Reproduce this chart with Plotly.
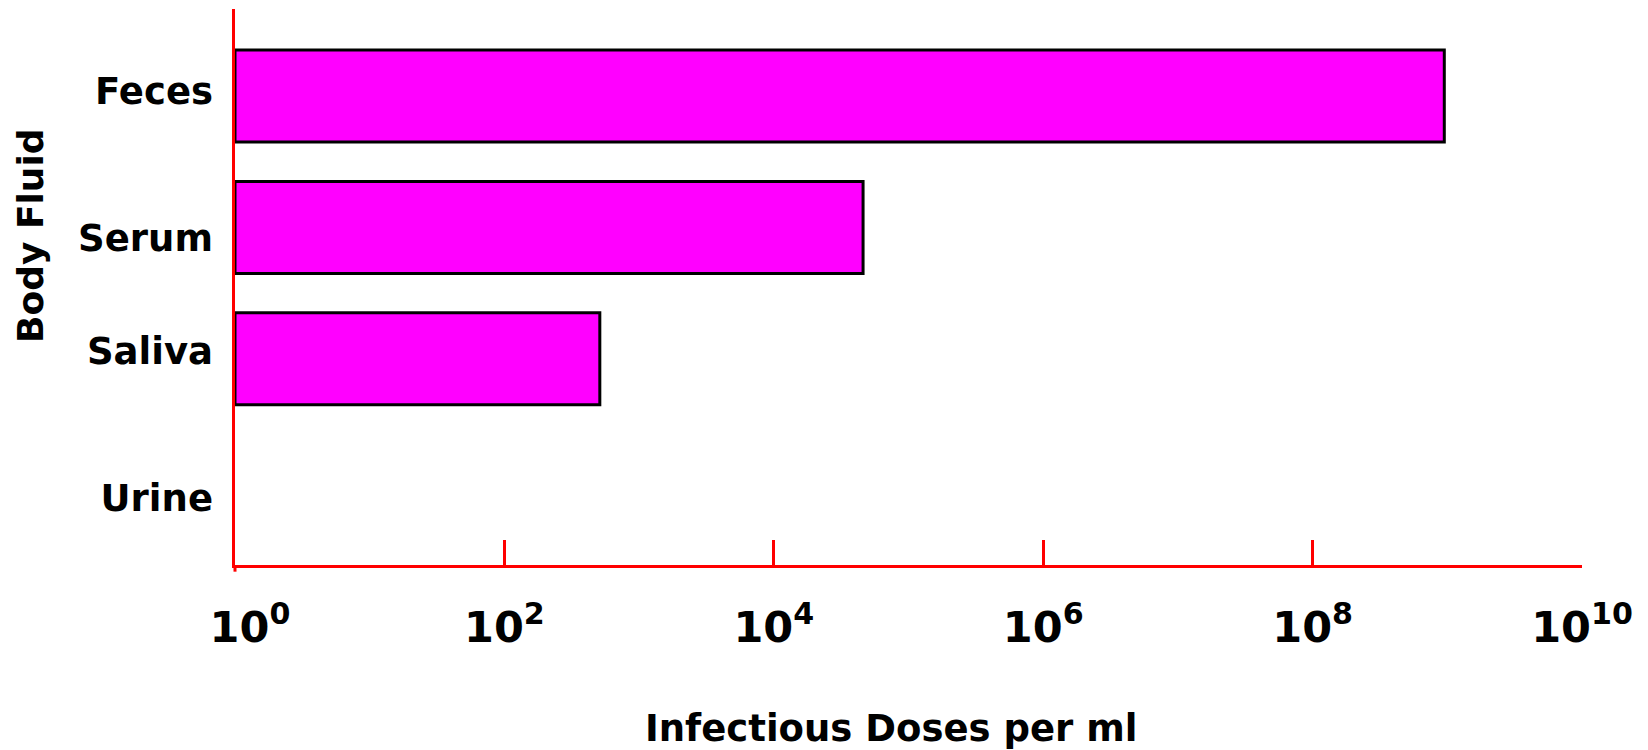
import plotly.graph_objects as go

categories = ["Urine", "Saliva", "Serum", "Feces"]
doses = [None, 5.1e2, 4.6e4, 9.5e8]
tick_values = [1e0, 1e2, 1e4, 1e6, 1e8, 1e10]
tick_labels = ["&nbsp;&nbsp;10<sup>0</sup>", "10<sup>2</sup>", "10<sup>4</sup>",
               "10<sup>6</sup>", "10<sup>8</sup>", "10<sup>10</sup>"]
tick_marks = [1e2, 1e4, 1e6, 1e8]
x_title = "Infectious Doses per ml"
y_title = "Body Fluid"

# label placement (in category-index units) as drawn in the original figure
label_positions = [-0.06, 1.057, 1.916, 3.038]

RED = "#FF0000"
FONT = "DejaVu Sans"
Y_RANGE = [-0.57, 3.663]

fig = go.Figure()
fig.add_trace(go.Bar(
    y=categories, x=doses, orientation="h", base=1,
    marker=dict(color="#FF00FF", line=dict(color="#000000", width=3)),
    width=0.70,
))
# invisible helper trace to activate the label axis
fig.add_trace(go.Scatter(x=[None], y=[None], yaxis="y2", mode="markers",
                         showlegend=False, hoverinfo="skip"))

fig.update_layout(
    template="none",
    width=1640, height=742,
    margin=dict(l=227, r=66, t=1, b=185, autoexpand=False),
    paper_bgcolor="white", plot_bgcolor="white",
    showlegend=False,
    font=dict(family=FONT, color="black", weight="bold"),
    xaxis=dict(
        type="log", range=[0, 10], automargin=False,
        showline=True, linecolor=RED, linewidth=3,
        showgrid=False, zeroline=False,
        tickmode="array", tickvals=tick_values, ticktext=tick_labels,
        ticks="", ticklabelstandoff=22,
        tickfont=dict(family=FONT, size=43, color="black", weight="bold"),
        minor=dict(tickmode="array", tickvals=tick_marks, ticks="inside",
                   ticklen=25, tickwidth=3, tickcolor=RED, showgrid=False),
    ),
    yaxis=dict(
        range=Y_RANGE, automargin=False,
        showline=True, linecolor=RED, linewidth=3,
        showgrid=False, zeroline=False, ticks="", showticklabels=False,
    ),
    yaxis2=dict(
        overlaying="y", side="left", range=Y_RANGE, automargin=False,
        showline=False, showgrid=False, zeroline=False, ticks="",
        tickmode="array", tickvals=label_positions, ticktext=categories,
        ticklabelstandoff=21,
        tickfont=dict(family=FONT, size=37, color="black", weight="bold"),
    ),
    shapes=[dict(type="line", xref="paper", yref="paper", x0=0, x1=0,
                 y0=0, y1=-0.012, line=dict(color=RED, width=3))],
    annotations=[
        dict(text=x_title, xref="paper", yref="paper", x=0.487, y=-0.294,
             xanchor="center", yanchor="middle", showarrow=False,
             font=dict(family=FONT, size=37, color="black", weight="bold")),
        dict(text=y_title, xref="paper", yref="paper", x=-0.1522, y=0.5935,
             xanchor="center", yanchor="middle", textangle=-90, showarrow=False,
             font=dict(family=FONT, size=36, color="black", weight="bold")),
    ],
)

fig.write_html("out.html")
